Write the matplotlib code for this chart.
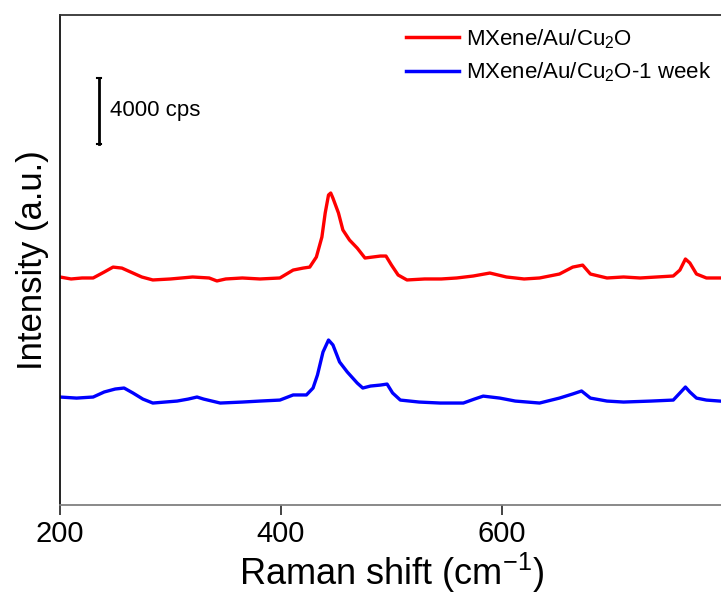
import matplotlib
matplotlib.use("Agg")
import matplotlib.pyplot as plt

plt.rcParams['font.family'] = ['Liberation Sans', 'DejaVu Sans']
plt.rcParams['mathtext.default'] = 'regular'

# Raman shift (cm-1) and intensity (cps)
x_fresh = [200, 210, 220, 230, 240, 248, 256, 264, 274, 284, 300, 320, 335, 342, 350, 365,
           381, 399, 411, 420, 426, 432, 437, 440, 443, 445, 447, 452, 456, 462, 469, 476,
           483, 490, 495, 500, 506, 514, 530, 545, 559, 574, 589, 604, 620, 634, 652, 664,
           673, 680, 695, 710, 725, 740, 755, 761, 766, 770, 776, 785, 797]
y_fresh = [13820, 13700, 13760, 13760, 14120, 14420, 14360, 14120, 13820, 13640, 13700, 13820,
           13760, 13580, 13700, 13760, 13700, 13760, 14240, 14360, 14420, 15030, 16240, 17700,
           18790, 18910, 18600, 17700, 16670, 16060, 15570, 14970, 15030, 15090, 15090, 14540,
           13940, 13640, 13700, 13700, 13760, 13880, 14060, 13820, 13700, 13760, 14000, 14420,
           14540, 14000, 13760, 13820, 13760, 13820, 13880, 14240, 14910, 14670, 14000, 13760,
           13760]

x_week = [200, 215, 230, 240, 250, 258, 266, 275, 284, 295, 306, 316, 324, 330, 345, 365,
          381, 399, 411, 423, 429, 433, 438, 443, 447, 453, 460, 469, 474, 481, 490, 496,
          501, 508, 525, 544, 565, 575, 583, 598, 612, 634, 652, 664, 672, 680, 695, 710,
          735, 755, 761, 766, 770, 776, 785, 797]
y_week = [6545, 6480, 6545, 6850, 7030, 7090, 6790, 6420, 6180, 6240, 6300, 6420, 6545, 6420,
          6180, 6240, 6300, 6360, 6670, 6670, 7090, 7880, 9270, 10000, 9700, 8670, 8060, 7390,
          7090, 7210, 7270, 7330, 6790, 6360, 6240, 6180, 6180, 6420, 6600, 6480, 6300, 6180,
          6480, 6730, 6910, 6480, 6300, 6240, 6300, 6360, 6790, 7150, 6850, 6480, 6360, 6300]

labels = ['MXene/Au/Cu$_2$O', 'MXene/Au/Cu$_2$O-1 week']
colors = ['#ff0000', '#0000ff']
xticks = [200, 400, 600]
scale_bar = 4000

fig = plt.figure(figsize=(7.21, 6.01), dpi=100)
ax = fig.add_axes([60/721, 96/601, 663/721, 490/601])

l1, = ax.plot(x_fresh, y_fresh, color=colors[0], lw=2.4, label=labels[0],
              solid_joinstyle='round')
l2, = ax.plot(x_week, y_week, color=colors[1], lw=2.4, label=labels[1],
              solid_joinstyle='round')

ax.set_xlim(200, 800)
ax.set_ylim(0, 29700)
ax.set_xticks(xticks)
ax.set_xticklabels([str(t) for t in xticks])
ax.set_yticks([])

ax.spines['right'].set_visible(False)
ax.spines['left'].set_color('#111111')
ax.spines['top'].set_color('#333333')
ax.spines['bottom'].set_color('#808080')
for s in ['left', 'top', 'bottom']:
    ax.spines[s].set_linewidth(1.3)
ax.tick_params(axis='x', direction='out', length=7, width=1.2, color='#222222',
               labelsize=21, pad=4)

ax.set_xlabel('Raman shift (cm$^{-1}$)', fontsize=26, labelpad=2)
ax.set_ylabel('Intensity (a.u.)', fontsize=25, labelpad=8)

# scale bar
y0 = 21900
ax.plot([235.3, 235.3], [y0, y0 + scale_bar], color='black', lw=2)
ax.plot([233.5, 237.1], [y0, y0], color='black', lw=1.5)
ax.plot([233.5, 237.1], [y0 + scale_bar, y0 + scale_bar], color='black', lw=1.5)
ax.text(245, y0 + scale_bar / 2, f'{scale_bar} cps', fontsize=16, va='center', ha='left')

leg = ax.legend(handles=[l1, l2], loc='upper left', frameon=False,
                bbox_to_anchor=(406/721, 1 - 27/601), bbox_transform=fig.transFigure,
                fontsize=16, handlelength=2.4, handletextpad=0.3, labelspacing=0.45,
                borderpad=0, borderaxespad=0)
for h in leg.get_lines():
    h.set_linewidth(2.5)

fig.savefig('out.png', dpi=100)
